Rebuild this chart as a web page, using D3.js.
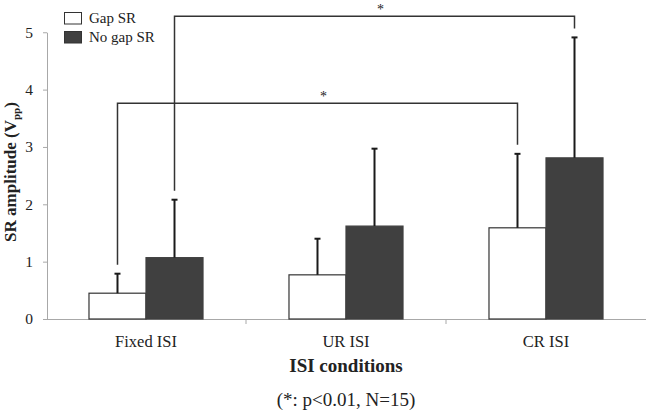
<!DOCTYPE html>
<html>
<head>
<meta charset="utf-8">
<script src="https://cdn.jsdelivr.net/npm/d3@7"></script>
<style>
  html, body { margin: 0; padding: 0; background: #fff; }
  svg { display: block; }
  text { font-family: "Liberation Serif", "Times New Roman", serif; fill: #222; }
</style>
</head>
<body>
<svg id="chart" width="646" height="413"></svg>
<script>
// ---- data ----
const categories = ["Fixed ISI", "UR ISI", "CR ISI"];
const seriesNames = ["Gap SR", "No gap SR"];
const gapMeans = [0.45, 0.77, 1.59];
const gapErrors = [0.34, 0.63, 1.29];
const noGapMeans = [1.07, 1.62, 2.81];
const noGapErrors = [1.01, 1.35, 2.10];
const yTicks = [0, 1, 2, 3, 4, 5];
// significance brackets: [category, series] to [category, series], level in data units
const brackets = [
  { from: ["Fixed ISI", "Gap SR"], to: ["CR ISI", "Gap SR"], level: 3.76, label: "*" },
  { from: ["Fixed ISI", "No gap SR"], to: ["CR ISI", "No gap SR"], level: 5.28, label: "*" }
];
const xTitle = "ISI conditions";
const note = "(*: p<0.01, N=15)";

// ---- layout ----
const svg = d3.select("#chart");
const mLeft = 46, mRight = 646, mTop = 32.25, mBottom = 319;

const x = d3.scaleBand().domain(categories).range([mLeft, mRight]).paddingInner(0).paddingOuter(0);
const x1 = d3.scaleBand().domain(seriesNames).range([0, x.bandwidth()]).paddingInner(0).paddingOuter(0.754);
const y = d3.scaleLinear().domain([0, 5]).range([mBottom, mTop]);

const colors = { "Gap SR": "#ffffff", "No gap SR": "#404040" };
const strokes = { "Gap SR": "#333333", "No gap SR": "#404040" };

const rows = [];
categories.forEach((c, i) => {
  rows.push({ cat: c, s: "Gap SR", v: gapMeans[i], e: gapErrors[i] });
  rows.push({ cat: c, s: "No gap SR", v: noGapMeans[i], e: noGapErrors[i] });
});
const lookup = (cat, s) => rows.find(r => r.cat === cat && r.s === s);
const cx = (cat, s) => x(cat) + x1(s) + x1.bandwidth() / 2;

// y axis
const yAxis = svg.append("g")
  .attr("transform", `translate(${mLeft + 1},0)`)
  .call(d3.axisLeft(y).tickValues(yTicks).tickFormat(d3.format("d"))
    .tickSize(4).tickSizeOuter(0).tickPadding(10));
yAxis.select(".domain").attr("stroke", "#a8a8a8");
yAxis.selectAll(".tick line").attr("stroke", "#a8a8a8");
yAxis.selectAll(".tick text")
  .style("font-family", "'Liberation Serif', serif")
  .style("font-size", "15.5px").attr("fill", "#222");

// x axis (labels at centres, ticks at category boundaries)
const xAxis = svg.append("g")
  .attr("transform", `translate(0,${mBottom})`)
  .call(d3.axisBottom(x).tickSize(0).tickPadding(16).tickSizeOuter(0));
xAxis.select(".domain").attr("stroke", "#a8a8a8");
xAxis.selectAll(".tick text")
  .style("font-family", "'Liberation Serif', serif")
  .style("font-size", "16.5px").attr("fill", "#222");
svg.append("g").selectAll("line")
  .data(categories.slice(1))
  .join("line")
  .attr("x1", d => x(d)).attr("x2", d => x(d))
  .attr("y1", mBottom).attr("y2", mBottom + 5)
  .attr("stroke", "#a8a8a8");

// bars
svg.append("g").selectAll("rect")
  .data(rows)
  .join("rect")
  .attr("x", d => x(d.cat) + x1(d.s))
  .attr("y", d => y(d.v))
  .attr("width", x1.bandwidth())
  .attr("height", d => y(0) - y(d.v))
  .attr("fill", d => colors[d.s])
  .attr("stroke", d => strokes[d.s])
  .attr("stroke-width", 1.2);

// error bars (upper only)
const eb = svg.append("g").attr("stroke", "#1a1a1a");
eb.selectAll("line.v")
  .data(rows).join("line").attr("class", "v")
  .attr("x1", d => cx(d.cat, d.s)).attr("x2", d => cx(d.cat, d.s))
  .attr("y1", d => y(d.v)).attr("y2", d => y(d.v + d.e))
  .attr("stroke-width", 2);
eb.selectAll("line.c")
  .data(rows).join("line").attr("class", "c")
  .attr("x1", d => cx(d.cat, d.s) - 3).attr("x2", d => cx(d.cat, d.s) + 3)
  .attr("y1", d => y(d.v + d.e)).attr("y2", d => y(d.v + d.e))
  .attr("stroke-width", 2);

// significance brackets
const gap = 9;
const bg = svg.append("g");
brackets.forEach(b => {
  const a = lookup(b.from[0], b.from[1]);
  const c = lookup(b.to[0], b.to[1]);
  const xa = cx(b.from[0], b.from[1]);
  const xc = cx(b.to[0], b.to[1]);
  const yl = y(b.level);
  bg.append("path")
    .attr("d", `M${xa},${y(a.v + a.e) - gap}V${yl}H${xc}V${y(c.v + c.e) - gap}`)
    .attr("fill", "none").attr("stroke", "#333").attr("stroke-width", 1.5);
  bg.append("text")
    .attr("x", (xa + xc) / 2 + 6).attr("y", yl - 2)
    .attr("text-anchor", "middle")
    .style("font-size", "14px")
    .text(b.label);
});

// y axis title
const yt = svg.append("text")
  .attr("transform", `translate(15.5,172) rotate(-90)`)
  .attr("text-anchor", "middle")
  .style("font-size", "17px").style("font-weight", "bold");
yt.append("tspan").text("SR amplitude (V");
yt.append("tspan").attr("dy", 4).style("font-size", "11px").text("pp");
yt.append("tspan").attr("dy", -4).text(")");

// x axis title and note
svg.append("text")
  .attr("x", (mLeft + mRight) / 2).attr("y", 372)
  .attr("text-anchor", "middle")
  .style("font-size", "19px").style("font-weight", "bold")
  .text(xTitle);
svg.append("text")
  .attr("x", (mLeft + mRight) / 2).attr("y", 406)
  .attr("text-anchor", "middle")
  .style("font-size", "19px")
  .text(note);

// legend
const lg = svg.append("g");
seriesNames.forEach((s, i) => {
  const ly = 12 + i * 19;
  lg.append("rect")
    .attr("x", 64.5).attr("y", ly + 0.5).attr("width", 17).attr("height", 11.5)
    .attr("fill", colors[s]).attr("stroke", "#333").attr("stroke-width", 1);
  lg.append("text")
    .attr("x", 89).attr("y", ly + 10.7)
    .style("font-size", "15px")
    .text(s);
});
</script>
</body>
</html>
